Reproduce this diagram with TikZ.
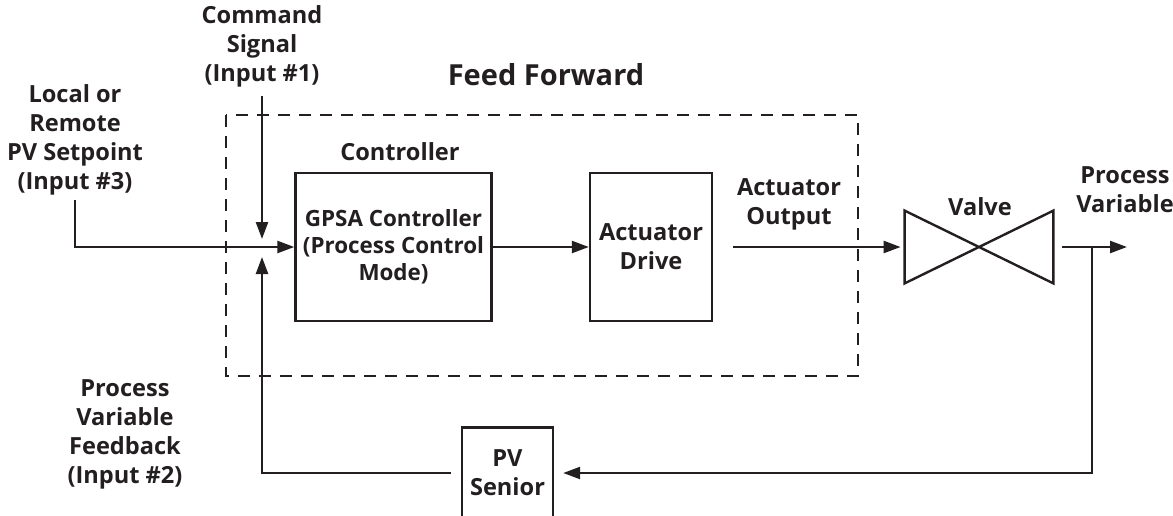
\documentclass[tikz,border=0pt]{standalone}
\usepackage{fontspec}
\setmainfont{Open Sans}
\usepackage{tikz}
\usetikzlibrary{arrows.meta, positioning, calc}
\definecolor{inkgray}{RGB}{35, 31, 32}
\tikzset{
  >=Stealth,
  flowarrow/.style={-{Triangle[length=8.5pt, width=6pt]}, line width=1.2pt, inkgray},
  flowline/.style={line width=1.2pt, inkgray},
  blockbox/.style={draw=inkgray, line width=1.2pt, align=center, inner sep=0pt},
  labeltext/.style={align=center, text=inkgray, font=\fontsize{11.8}{14.5}\selectfont\bfseries},
  ffborder/.style={draw=inkgray, line width=1.2pt, dash pattern=on 6pt off 4.5pt}
}

\begin{document}
\begin{tikzpicture}[x=0.5pt, y=-0.5pt]
    \useasboundingbox (0,0) rectangle (1173,515);

    % --- FEED FORWARD REGION ---
    \draw[ffborder] (226,115) rectangle (858,376);
    \node[labeltext, font=\fontsize{14.5}{17}\selectfont\bfseries] (fflabel) at (546,75) {Feed Forward};
    \node[labeltext] (ctrllabel) at (400,152) {Controller};

    % --- BLOCKS ---
    \node[blockbox, labeltext, font=\fontsize{11.2}{13.5}\selectfont\bfseries, minimum width=98pt, minimum height=74pt] (gpsa) at (393.5,247) {GPSA Controller\\(Process Control\\Mode)};
    \node[blockbox, labeltext, minimum width=61pt, minimum height=74pt] (drive) at (651,247) {Actuator\\Drive};
    \node[blockbox, labeltext, minimum width=45.5pt, minimum height=45.5pt] (pvs) at (507.5,473) {PV\\Senior};

    % Valve (bow tie)
    \node[minimum width=74pt, minimum height=36pt, inner sep=0pt] (valve) at (979,247) {};
    \draw[flowline, line join=miter] (valve.north west) -- (valve.south east) -- (valve.north east) -- (valve.south west) -- cycle;
    \node[labeltext] (valvelabel) at (980,207) {Valve};

    % --- INPUT LABELS ---
    \node[labeltext] (cmdlabel) at (262,46) {Command\\Signal\\(Input \#1)};
    \node[labeltext] (sptlabel) at (75,140) {Local or\\Remote\\PV Setpoint\\(Input \#3)};
    \node[labeltext] (fblabel) at (125,434) {Process\\Variable\\Feedback\\(Input \#2)};
    \node[labeltext] (outlabel) at (789,204) {Actuator\\Output};
    \node[labeltext] (pvlabel) at (1125,190) {Process\\Variable};

    % --- CONNECTORS ---
    \coordinate (sumpt) at (262,247);
    \coordinate (cmdin) at (262,96);
    \coordinate (sptin) at (75,200);
    \coordinate (tap) at (1092,247);
    \coordinate (pvout) at (1127,247);

    \draw[flowarrow] (sptin) |- (gpsa.west);
    \draw[flowarrow, shorten >=4pt] (cmdin) -- (sumpt);
    \draw[flowarrow] (gpsa.east) -- (drive.west);
    \draw[flowarrow, shorten <=10pt, shorten >=2pt] (drive.east) -- (valve.west);
    \draw[flowarrow, shorten <=4.5pt] (valve.east) -- (pvout);
    \draw[flowarrow, shorten >=4.5pt] (tap) |- (pvs.east);
    \draw[flowarrow, shorten <=5pt, shorten >=5pt] (pvs.west) -| (sumpt);
\end{tikzpicture}
\end{document}
